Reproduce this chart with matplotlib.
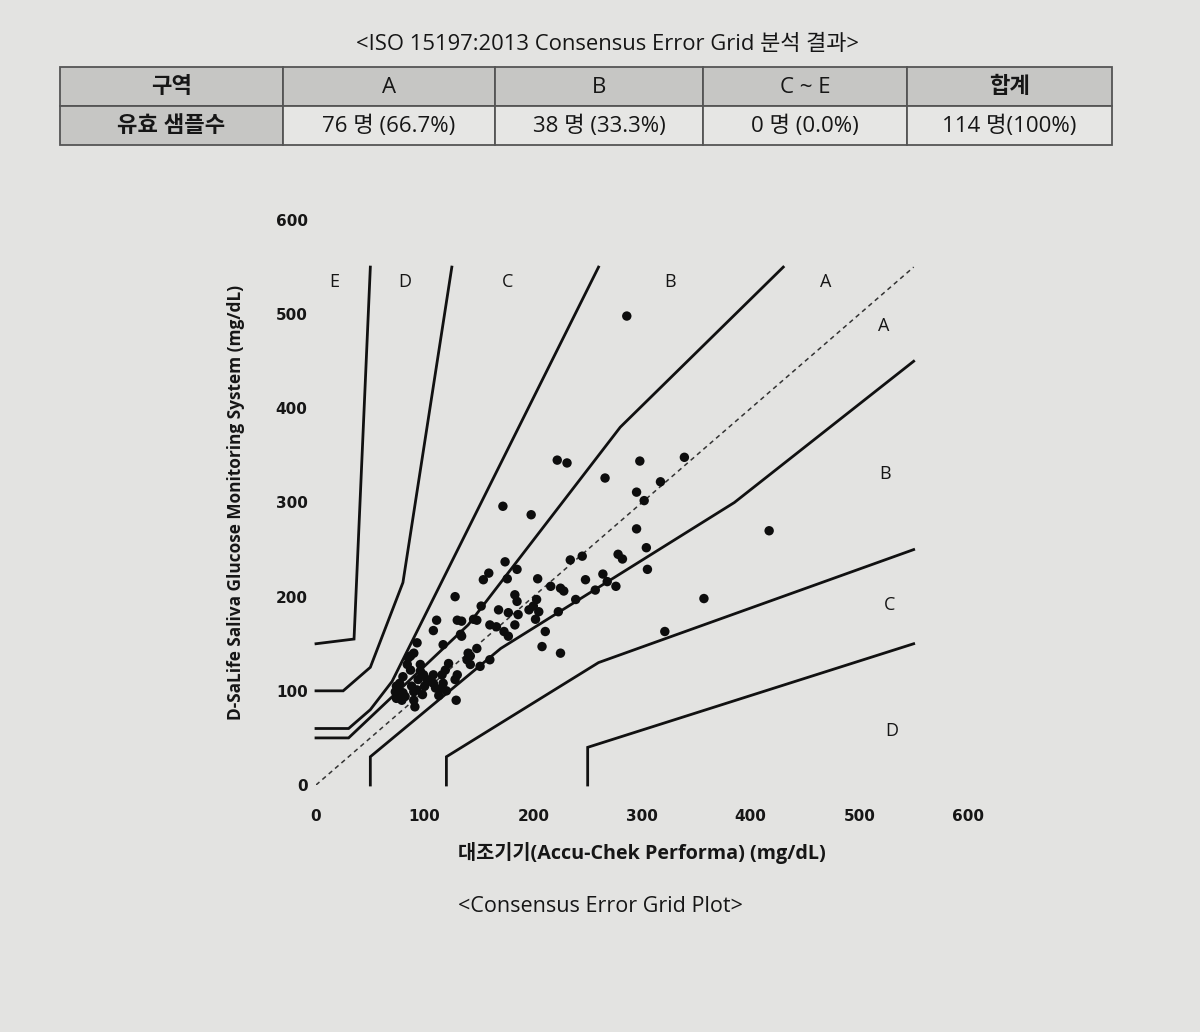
import matplotlib
matplotlib.use("Agg")
import matplotlib.pyplot as plt
from matplotlib.patches import Rectangle
import numpy as np

plt.rcParams['font.family'] = ['Open Sans', 'Noto Sans CJK KR', 'DejaVu Sans']

# ---------------- data ----------------
title = "<ISO 15197:2013 Consensus Error Grid 분석 결과>"
table_header = ["구역", "A", "B", "C ~ E", "합계"]
table_row = ["유효 샘플수", "76 명 (66.7%)", "38 명 (33.3%)", "0 명 (0.0%)", "114 명(100%)"]

# Parkes consensus error grid, type 1 boundaries (reference, measured)
zone_lines = {
    "A_upper": [(0, 50), (30, 50), (140, 170), (280, 380), (430, 550)],
    "A_lower": [(50, 0), (50, 30), (170, 145), (385, 300), (550, 450)],
    "B_upper": [(0, 60), (30, 60), (50, 80), (70, 110), (260, 550)],
    "B_lower": [(120, 0), (120, 30), (260, 130), (550, 250)],
    "C_upper": [(0, 100), (25, 100), (50, 125), (80, 215), (125, 550)],
    "C_lower": [(250, 0), (250, 40), (550, 150)],
    "D_upper": [(0, 150), (35, 155), (50, 550)],
}
diag = [(0, 0), (550, 550)]

ref_x = [222, 231, 298, 339, 266, 317, 295, 302, 295, 304, 305, 278, 282, 357, 417,
         321, 286, 172, 198, 234, 245, 264, 268, 276, 257, 248, 239, 223, 216, 225,
         228, 204, 211, 208, 225, 203, 200, 196, 205, 202, 183, 185, 183, 174, 185,
         159, 154, 176, 128, 152, 168, 177, 186, 160, 166, 173, 177, 148, 145, 130,
         134, 111, 108, 134, 117, 93, 90, 148, 140, 139, 160, 151, 122, 119, 116,
         130, 128, 108, 106, 110, 117, 116, 85, 84, 87, 96, 96, 94, 80, 77,
         76, 88, 90, 93, 82, 79, 90, 91, 74, 129, 102, 100, 74, 80, 133,
         142, 87, 99, 113, 98, 120, 142, 108, 73]
meas_y = [345, 342, 344, 348, 326, 322, 311, 302, 272, 252, 229, 245, 240, 198, 270,
          163, 498, 296, 287, 239, 243, 224, 216, 211, 207, 218, 197, 184, 211, 209,
          206, 219, 163, 147, 140, 197, 190, 186, 184, 176, 202, 195, 170, 237, 229,
          225, 218, 219, 200, 190, 186, 183, 181, 170, 168, 163, 158, 175, 176, 175,
          174, 175, 164, 158, 149, 151, 140, 145, 140, 133, 133, 126, 129, 122, 117,
          117, 112, 117, 110, 103, 108, 103, 135, 128, 122, 128, 121, 112, 115, 108,
          101, 105, 99, 101, 94, 90, 90, 83, 92, 90, 112, 105, 105, 98, 160,
          137, 137, 117, 95, 96, 100, 128, 108, 99]

zone_labels_top = ["E", "D", "C", "B", "A"]
zone_top_x = [17, 82, 176, 326, 469]
zone_top_y = 534
zone_labels_right = ["A", "B", "C", "D"]
zone_right_x = [522, 524, 528, 530]
zone_right_y = [487, 330, 191, 57]

ticks = [0, 100, 200, 300, 400, 500, 600]

# ---------------- figure ----------------
bg = "#e3e3e1"
ink = "#161616"
fig = plt.figure(figsize=(12, 10.32), dpi=100, facecolor=bg)

# page overlay in pixel coordinates for title / table / caption
page = fig.add_axes([0, 0, 1, 1])
page.set_xlim(0, 1200)
page.set_ylim(1032, 0)
page.axis("off")
page.patch.set_alpha(0)

page.text(608, 45, title, ha="center", va="center", fontsize=15.8, color=ink)

col_x = [60, 283, 495, 703, 907, 1112]
row_y = [67, 106, 145]
for r in range(2):
    for c in range(5):
        shade = "#c6c6c4" if (r == 0 or c == 0) else "#e6e6e4"
        page.add_patch(Rectangle((col_x[c], row_y[r]), col_x[c + 1] - col_x[c],
                                 row_y[r + 1] - row_y[r], facecolor=shade,
                                 edgecolor="#555555", linewidth=1.3))
        txt = table_header[c] if r == 0 else table_row[c]
        bold = (c == 0) or (r == 0 and c == 4)
        page.text((col_x[c] + col_x[c + 1]) / 2, (row_y[r] + row_y[r + 1]) / 2 + 1, txt,
                  ha="center", va="center", fontsize=16,
                  fontweight="bold" if bold else "normal", color=ink)

page.text(600, 907, "<Consensus Error Grid Plot>", ha="center", va="center",
          fontsize=15.5, color=ink)

# ---------------- error grid ----------------
ax = fig.add_axes([316 / 1200, 1 - 785 / 1032, (968 - 316) / 1200, (785 - 220) / 1032])
ax.patch.set_alpha(0)
ax.set_xlim(0, 600)
ax.set_ylim(0, 600)
for s in ax.spines.values():
    s.set_visible(False)

for name, pts in zone_lines.items():
    xs, ys = zip(*pts)
    ax.plot(xs, ys, color="#111111", lw=2.0, solid_joinstyle="miter", clip_on=False)

dx, dy = zip(*diag)
ax.plot(dx, dy, color="#333333", lw=1.1, ls=(0, (3, 2.5)))

ax.scatter(ref_x, meas_y, s=46, color="#0d0d0d", edgecolors="none", zorder=3)

for lab, x in zip(zone_labels_top, zone_top_x):
    ax.text(x, zone_top_y, lab, ha="center", va="center", fontsize=13, color=ink)
for lab, x, y in zip(zone_labels_right, zone_right_x, zone_right_y):
    ax.text(x, y, lab, ha="center", va="center", fontsize=13, color=ink)

ax.set_xticks(ticks)
ax.set_yticks(ticks)
ax.set_xticklabels([str(t) for t in ticks], fontweight="bold", fontsize=11,
                   family="DejaVu Sans")
ax.set_yticklabels([str(t) for t in ticks], fontweight="bold", fontsize=11,
                   family="DejaVu Sans")
ax.tick_params(length=0, pad=17, colors=ink)
ax.tick_params(axis="y", pad=6)

ax.set_xlabel("대조기기(Accu-Chek Performa) (mg/dL)", fontweight="bold", fontsize=14.2,
              labelpad=13, color=ink)
ax.set_ylabel("D-SaLife Saliva Glucose Monitoring System (mg/dL)", fontweight="bold",
              fontsize=12.4, labelpad=22, color=ink)

fig.savefig("out.png", dpi=100, facecolor=bg)
